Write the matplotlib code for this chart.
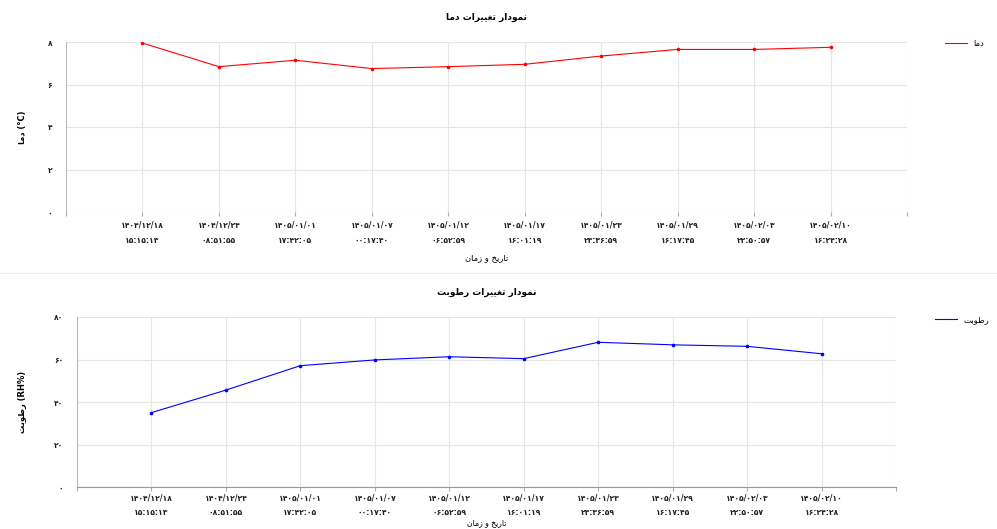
import matplotlib
matplotlib.use("Agg")
import matplotlib.pyplot as plt
from matplotlib.lines import Line2D

# ---------------- data ----------------
dates = ["۱۴۰۴/۱۲/۱۸", "۱۴۰۴/۱۲/۲۴", "۱۴۰۵/۰۱/۰۱", "۱۴۰۵/۰۱/۰۷", "۱۴۰۵/۰۱/۱۲",
         "۱۴۰۵/۰۱/۱۷", "۱۴۰۵/۰۱/۲۳", "۱۴۰۵/۰۱/۲۹", "۱۴۰۵/۰۲/۰۳", "۱۴۰۵/۰۲/۱۰"]
times = ["۱۵:۱۵:۱۳", "۰۸:۵۱:۵۵", "۱۷:۴۲:۰۵", "۰۰:۱۷:۴۰", "۰۶:۵۲:۵۹",
         "۱۶:۰۱:۱۹", "۲۳:۳۶:۵۹", "۱۶:۱۷:۴۵", "۲۲:۵۰:۵۷", "۱۶:۲۴:۲۸"]
temperature = [7.95, 6.84, 7.14, 6.75, 6.84, 6.95, 7.34, 7.65, 7.65, 7.75]
humidity = [35.0, 45.6, 57.1, 59.8, 61.3, 60.4, 68.1, 66.9, 66.2, 62.7]
temp_ticks = [0, 2, 4, 6, 8]
temp_ticklabels = ["۰", "۲", "۴", "۶", "۸"]
hum_ticks = [0, 20, 40, 60, 80]
hum_ticklabels = ["۰", "۲۰", "۴۰", "۶۰", "۸۰"]

# ---------------- minimal Persian shaping ----------------
FORMS = {  # isolated, final, initial, medial
    'ا': ('\uFE8D', '\uFE8E', None, None),
    'ب': ('\uFE8F', '\uFE90', '\uFE91', '\uFE92'),
    'ت': ('\uFE95', '\uFE96', '\uFE97', '\uFE98'),
    'خ': ('\uFEA5', '\uFEA6', '\uFEA7', '\uFEA8'),
    'د': ('\uFEA9', '\uFEAA', None, None),
    'ر': ('\uFEAD', '\uFEAE', None, None),
    'ز': ('\uFEAF', '\uFEB0', None, None),
    'ط': ('\uFEC1', '\uFEC2', '\uFEC3', '\uFEC4'),
    'غ': ('\uFECD', '\uFECE', '\uFECF', '\uFED0'),
    'م': ('\uFEE1', '\uFEE2', '\uFEE3', '\uFEE4'),
    'ن': ('\uFEE5', '\uFEE6', '\uFEE7', '\uFEE8'),
    'و': ('\uFEED', '\uFEEE', None, None),
    'ی': ('\uFEEF', '\uFEF0', '\uFEF3', '\uFEF4'),
}


def dual(c):
    return c in FORMS and FORMS[c][2] is not None


def shape_rtl(word):
    out = []
    for i, c in enumerate(word):
        if c not in FORMS:
            out.append(c)
            continue
        prev = word[i - 1] if i > 0 else ''
        nxt = word[i + 1] if i + 1 < len(word) else ''
        jp = dual(prev)
        jn = dual(c) and nxt in FORMS
        iso, fin, ini, med = FORMS[c]
        if jp and jn:
            out.append(med)
        elif jp:
            out.append(fin)
        elif jn:
            out.append(ini)
        else:
            out.append(iso)
    return ''.join(out)[::-1]


def fa(text):
    return shape_rtl(text)


title_t = fa("نمودار تغییرات دما")
title_h = fa("نمودار تغییرات رطوبت")
xlabel = fa("تاریخ و زمان")
ylabel_t = fa("دما") + " (°C)"
ylabel_h = fa("رطوبت") + " (RH%)"
leg_t = fa("دما")
leg_h = fa("رطوبت")

plt.rcParams['font.family'] = ['DejaVu Sans']

W, H = 997, 529
fig = plt.figure(figsize=(W / 100, H / 100), dpi=100)

ax1 = fig.add_axes([66 / W, 1 - 212 / H, (907 - 66) / W, (212 - 42) / H])
ax2 = fig.add_axes([77 / W, 1 - 487 / H, (896 - 77) / W, (487 - 317) / H])

xs = list(range(len(dates)))
labels = [f"{d}\n{t}" for d, t in zip(dates, times)]
grid_pos = list(range(-1, len(dates) + 1))


def style(ax, ticks, ticklabels, ymax, show_bottom, spacing, pad):
    ax.set_xlim(-1, len(dates))
    ax.set_ylim(0, ymax)
    ax.set_xticks(grid_pos)
    ax.set_xticklabels([""] + labels + [""], fontsize=5.5, color="#222222",
                       linespacing=spacing, fontweight="bold")
    ax.set_yticks(ticks)
    ax.set_yticklabels(ticklabels, fontsize=5.5, color="#222222", fontweight="bold")
    ax.grid(True, color="#e6e6e6", linewidth=0.8)
    ax.set_axisbelow(True)
    for s in ("top", "right"):
        ax.spines[s].set_visible(False)
    ax.spines["left"].set_color("#bbbbbb")
    ax.spines["bottom"].set_color("#999999")
    ax.spines["bottom"].set_visible(show_bottom)
    ax.tick_params(axis="x", length=3, color="#aaaaaa", pad=pad)
    ax.tick_params(axis="y", length=0, pad=10)


l1, = ax1.plot(xs, temperature, color="red", linewidth=0.8, marker="o",
               markersize=1.6)
l2, = ax2.plot(xs, humidity, color="blue", linewidth=0.8, marker="o",
               markersize=1.6)

style(ax1, temp_ticks, temp_ticklabels, 8, False, 1.9, 3)
style(ax2, hum_ticks, hum_ticklabels, 80, True, 1.7, 2)

ax1.set_title(title_t, fontsize=6.5, fontweight="bold", pad=16)
ax2.set_title(title_h, fontsize=6.5, fontweight="bold", pad=16)
ax1.set_xlabel(xlabel, fontsize=6, labelpad=6)
ax2.set_xlabel(xlabel, fontsize=5.5)
ax2.xaxis.set_label_coords(0.5, -(518.5 - 487) / (487 - 317))
ax1.set_ylabel(ylabel_t, fontsize=6, fontweight="bold")
ax2.set_ylabel(ylabel_h, fontsize=6, fontweight="bold")
ax1.yaxis.set_label_coords(-(66 - 27) / (907 - 66), 0.5)
ax2.yaxis.set_label_coords(-(77 - 27) / (896 - 77), 0.5)

fig.legend(handles=[l1], labels=[leg_t], loc="upper left",
           bbox_to_anchor=(942 / W, 1 - 36 / H), frameon=False, fontsize=6,
           handlelength=2.6, handletextpad=0.8, borderaxespad=0)
fig.legend(handles=[l2], labels=[leg_h], loc="upper left",
           bbox_to_anchor=(932 / W, 1 - 312 / H), frameon=False, fontsize=6,
           handlelength=2.6, handletextpad=0.8, borderaxespad=0)
for leg in fig.legends:
    for h in leg.legend_handles:
        h.set_marker("")

fig.add_artist(Line2D([0, 1], [1 - 273 / H, 1 - 273 / H], color="#eeeeee",
                      linewidth=0.8, transform=fig.transFigure))

fig.savefig("out.png", dpi=100)
